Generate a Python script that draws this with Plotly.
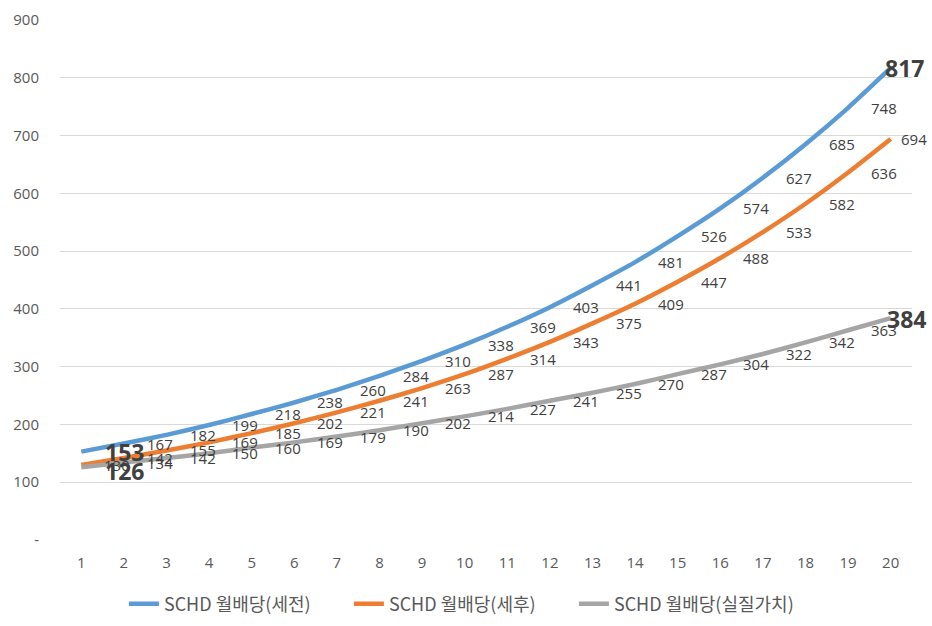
import plotly.graph_objects as go

years = list(range(1, 21))
pre_tax = [153, 167, 182, 199, 218, 238, 260, 284, 310, 338, 369, 403, 441, 481, 526, 574, 627, 685, 748, 817]
post_tax = [130, 142, 155, 169, 185, 202, 221, 241, 263, 287, 314, 343, 375, 409, 447, 488, 533, 582, 636, 694]
real_value = [126, 134, 142, 150, 160, 169, 179, 190, 202, 214, 227, 241, 255, 270, 287, 304, 322, 342, 363, 384]
series_names = ["SCHD 월배당(세전)", "SCHD 월배당(세후)", "SCHD 월배당(실질가치)"]
colors = ["#5B9BD5", "#ED7D31", "#A5A5A5"]
y_ticks = [0, 100, 200, 300, 400, 500, 600, 700, 800, 900]
y_ticktext = ["-", "100", "200", "300", "400", "500", "600", "700", "800", "900"]

NUM_FONT = "Open Sans, Noto Sans CJK KR, sans-serif"
KR_FONT = "Noto Sans CJK KR, Noto Sans, sans-serif"

fig = go.Figure()
all_series = [pre_tax, post_tax, real_value]
for name, vals, col in zip(series_names, all_series, colors):
    fig.add_trace(go.Scatter(
        x=years, y=vals, mode="lines", name=name,
        line=dict(color=col, width=4.5, shape="spline", smoothing=0.6),
        hoverinfo="skip",
    ))

annotations = []
for si, vals in enumerate(all_series):
    for i, v in enumerate(vals):
        bold = (si == 0 and i in (0, 19)) or (si == 2 and i in (0, 19))
        if bold:
            continue
        shift = 21
        if si == 1 and i == 19:
            shift = 8
        annotations.append(dict(
            x=years[i], y=v, text=str(v), showarrow=False,
            xanchor="left", yanchor="middle", xshift=shift,
            font=dict(family=NUM_FONT, size=15, color="#404040"),
        ))
bold_specs = [(0, 0, 22, 0), (2, 0, 22, -4), (0, 19, -8, 0), (2, 19, -6, -1)]
for si, i, xs, ys in bold_specs:
    v = all_series[si][i]
    annotations.append(dict(
        x=years[i], y=v, text="<b>%d</b>" % v, showarrow=False,
        xanchor="left", yanchor="middle", xshift=xs, yshift=ys,
        font=dict(family=NUM_FONT, size=23, color="#404040"),
    ))

fig.update_layout(
    width=932, height=626,
    margin=dict(l=60, r=20, t=20, b=86, autoexpand=False),
    plot_bgcolor="white", paper_bgcolor="white",
    showlegend=True,
    legend=dict(orientation="h", x=0.075, xanchor="left", y=-0.123, yanchor="middle",
                font=dict(family=KR_FONT, size=18, color="#595959"),
                entrywidth=180, entrywidthmode="pixels", tracegroupgap=0),
    annotations=annotations,
)
fig.update_xaxes(showgrid=False, zeroline=False, showline=False, automargin=False,
                 tickvals=years, ticks="", ticklabelstandoff=12,
                 tickfont=dict(family=NUM_FONT, size=15, color="#595959"),
                 range=[0.5, 20.5])
fig.update_yaxes(range=[0, 900], tickvals=y_ticks, ticktext=y_ticktext, automargin=False,
                 showgrid=True, gridcolor="#D9D9D9", gridwidth=1.3, zeroline=False,
                 showline=False, ticks="", ticklabelstandoff=20,
                 tickfont=dict(family=NUM_FONT, size=15, color="#595959"))

fig.write_html("out.html", config={"displayModeBar": False},
               post_script="document.body.style.margin='0';")
